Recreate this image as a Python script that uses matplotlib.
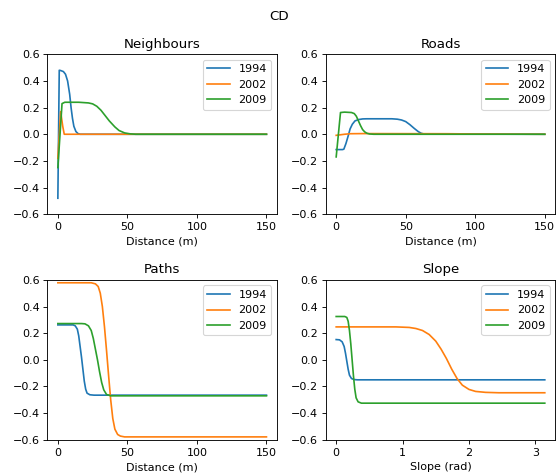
import numpy as np
import matplotlib
matplotlib.use("Agg")
import matplotlib.pyplot as plt

years = ["1994", "2002", "2009"]

# Neighbours
nb_x_1994 = [0, 1, 2, 4, 5.5, 7, 8.5, 9.5, 10.5, 11.5, 13, 14.5, 16, 150]
nb_y_1994 = [-0.48, 0.48, 0.478, 0.47, 0.45, 0.40, 0.30, 0.20, 0.12, 0.06, 0.02, 0.005, 0.0, 0.0]
nb_x_2002 = [0, 2, 3.5, 4.6, 150]
nb_y_2002 = [-0.18, 0.17, 0.06, 0.0, 0.0]
nb_x_2009 = [0, 3, 5, 15, 22, 25, 28, 31, 34, 37, 41, 44, 48, 52, 56, 150]
nb_y_2009 = [-0.25, 0.23, 0.24, 0.24, 0.235, 0.228, 0.21, 0.18, 0.14, 0.10, 0.055, 0.028, 0.01, 0.003, 0.0, 0.0]

# Roads
rd_x_1994 = [0, 4.5, 5.5, 7, 8.7, 10, 11.6, 13.5, 16, 19, 22, 40, 44, 47, 50, 53, 56, 59, 61, 63, 150]
rd_y_1994 = [-0.115, -0.115, -0.112, -0.07, -0.01, 0.04, 0.075, 0.10, 0.11, 0.115, 0.116, 0.116, 0.113, 0.107, 0.095, 0.072, 0.045, 0.02, 0.008, 0.002, 0.0]
rd_x_2002 = [0, 3, 6, 10, 20, 80, 100, 150]
rd_y_2002 = [-0.008, -0.004, 0.0, 0.004, 0.005, 0.004, 0.002, 0.0]
rd_x_2009 = [0, 3.1, 6, 11, 13, 14.5, 16, 17.5, 19, 20.5, 22, 24, 27, 150]
rd_y_2009 = [-0.17, 0.163, 0.166, 0.163, 0.155, 0.135, 0.10, 0.065, 0.035, 0.018, 0.008, 0.002, 0.0, 0.0]

# Paths
pt_x_1994 = [0, 11, 12.5, 14, 15, 16, 17, 18, 19, 20, 21, 23, 26, 150]
pt_y_1994 = [0.262, 0.262, 0.255, 0.23, 0.18, 0.10, 0.02, -0.07, -0.16, -0.22, -0.25, -0.262, -0.265, -0.265]
pt_x_2002 = [0, 24, 27, 29, 30.5, 32, 33.5, 35, 36.5, 38, 39.5, 41, 43, 45, 48, 150]
pt_y_2002 = [0.578, 0.578, 0.57, 0.55, 0.50, 0.40, 0.25, 0.07, -0.12, -0.30, -0.44, -0.52, -0.56, -0.572, -0.578, -0.578]
pt_x_2009 = [0, 17, 19.5, 22, 24, 25.5, 27, 28.5, 30, 31.5, 33, 35, 38, 150]
pt_y_2009 = [0.272, 0.272, 0.27, 0.255, 0.22, 0.16, 0.08, 0.0, -0.09, -0.17, -0.225, -0.26, -0.27, -0.27]

# Slope
sl_x_1994 = [0, 0.05, 0.09, 0.12, 0.14, 0.16, 0.18, 0.20, 0.23, 0.27, 0.32, np.pi]
sl_y_1994 = [0.152, 0.15, 0.135, 0.10, 0.05, -0.01, -0.07, -0.115, -0.14, -0.148, -0.15, -0.15]
sl_x_2002 = [0, 0.9, 1.1, 1.2, 1.3, 1.4, 1.5, 1.58, 1.66, 1.74, 1.82, 1.9, 2.0, 2.1, 2.25, 2.45, np.pi]
sl_y_2002 = [0.247, 0.247, 0.243, 0.235, 0.22, 0.19, 0.14, 0.08, 0.01, -0.07, -0.14, -0.19, -0.222, -0.237, -0.244, -0.247, -0.247]
sl_x_2009 = [0, 0.13, 0.16, 0.18, 0.20, 0.22, 0.24, 0.26, 0.28, 0.30, 0.33, 0.38, np.pi]
sl_y_2009 = [0.325, 0.325, 0.318, 0.29, 0.22, 0.12, 0.0, -0.12, -0.22, -0.285, -0.315, -0.325, -0.325]

panels = [
    ("Neighbours", "Distance (m)", [(nb_x_1994, nb_y_1994), (nb_x_2002, nb_y_2002), (nb_x_2009, nb_y_2009)]),
    ("Roads", "Distance (m)", [(rd_x_1994, rd_y_1994), (rd_x_2002, rd_y_2002), (rd_x_2009, rd_y_2009)]),
    ("Paths", "Distance (m)", [(pt_x_1994, pt_y_1994), (pt_x_2002, pt_y_2002), (pt_x_2009, pt_y_2009)]),
    ("Slope", "Slope (rad)", [(sl_x_1994, sl_y_1994), (sl_x_2002, sl_y_2002), (sl_x_2009, sl_y_2009)]),
]

fig, axes = plt.subplots(2, 2, figsize=(558 / 80, 476 / 80), dpi=80)
for ax, (title, xlabel, curves) in zip(axes.flat, panels):
    for (xs, ys), yr in zip(curves, years):
        ax.plot(xs, ys, label=yr)
    ax.set_title(title)
    ax.set_xlabel(xlabel)
    ax.set_ylim(-0.6, 0.6)
    ax.set_yticks(np.arange(-0.6, 0.61, 0.2))
    ax.legend(loc="upper right")

fig.suptitle("CD")
plt.subplots_adjust(left=0.085, right=0.995, top=0.886, bottom=0.076, wspace=0.213, hspace=0.41)
fig.savefig("out.png", dpi=80)
